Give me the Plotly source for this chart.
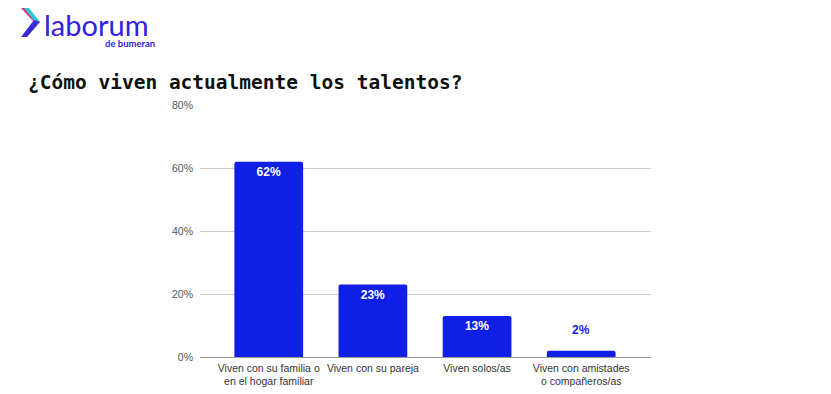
import plotly.graph_objects as go

categories = ["Viven con su familia o<br>en el hogar familiar", "Viven con su pareja",
              "Viven solos/as", "Viven con amistades<br>o compañeros/as"]
values = [0.62, 0.23, 0.13, 0.02]
labels = ["62%", "23%", "13%", "2%"]
tick_vals = [0, 0.2, 0.4, 0.6, 0.8]
tick_text = ["0%", "20%", "40%", "60%", "80%"]

BLUE = "#0f1fe6"
OFF = 8  # page body margin
W, H = 831, 394
L, T = 200 - OFF, 105 - OFF
R = W - (651 - OFF)
B = H - (357 - OFF)
PW, PH = W - L - R, H - T - B

def px(x):
    return (x - OFF - L) / PW

def py(y):
    return (H - B - (y - OFF)) / PH

inside = [v > 0.05 for v in values]

fig = go.Figure(go.Bar(
    x=list(range(len(categories))), y=values,
    text=[t if ins else "" for t, ins in zip(labels, inside)],
    textposition="inside", insidetextanchor="end",
    textfont=dict(family="Arial", size=12, color="white", weight="bold"),
    marker=dict(color=BLUE, line=dict(width=0)), width=0.66,
    cliponaxis=False,
))
for i, (v, t, ins) in enumerate(zip(values, labels, inside)):
    if not ins:
        fig.add_annotation(x=i, y=v, text=t, showarrow=False, yanchor="bottom", yshift=12,
                           font=dict(family="Arial", size=12, color=BLUE, weight="bold"))

fig.update_layout(
    width=W, height=H, margin=dict(l=L, r=R, t=T, b=B),
    paper_bgcolor="white", plot_bgcolor="white", showlegend=False,
    barcornerradius=2,
    xaxis=dict(tickvals=list(range(len(categories))), ticktext=categories,
               range=[-0.66, 3.67], showgrid=False, ticks="", ticklabelstandoff=3,
               tickfont=dict(family="Arial", size=10.5, color="#333")),
    yaxis=dict(range=[0, 0.8], tickvals=tick_vals, ticktext=tick_text,
               showgrid=True, gridcolor="#d0d0d0", gridwidth=1,
               zeroline=True, zerolinecolor="#999", zerolinewidth=1,
               ticks="", ticklabelstandoff=6,
               tickfont=dict(family="Arial", size=10.5, color="#555")),
    font=dict(family="Arial"),
)

# title
fig.add_annotation(text="¿Cómo viven actualmente los talentos?", xref="paper", yref="paper",
                   x=px(26), y=py(82), xanchor="left", yanchor="middle", showarrow=False,
                   font=dict(family="DejaVu Sans Mono", size=19.5, color="#111", weight="bold"))

# logo
fig.add_annotation(text="laborum", xref="paper", yref="paper", x=px(42), y=py(24),
                   xanchor="left", yanchor="middle", showarrow=False,
                   font=dict(family="Lato", size=29, color="#3320e0"))
fig.add_annotation(text="de bumeran", xref="paper", yref="paper", x=px(157), y=py(44),
                   xanchor="right", yanchor="middle", showarrow=False,
                   font=dict(family="Lato", size=9.5, color="#3320e0", weight="bold"))

def path(pts):
    return "M " + " L ".join(f"{px(x)},{py(y)}" for x, y in pts) + " Z"

fig.add_shape(type="path", xref="paper", yref="paper",
              path=path([(21, 8), (27, 8), (40, 22), (34, 22)]),
              fillcolor="#e0287a", line=dict(width=0))
fig.add_shape(type="path", xref="paper", yref="paper",
              path=path([(24, 8), (29, 8), (40, 22), (35, 22)]),
              fillcolor="#2ec9d6", line=dict(width=0))
fig.add_shape(type="path", xref="paper", yref="paper",
              path=path([(34, 20), (40, 22), (27, 37), (21, 37)]),
              fillcolor="#3a2ad6", line=dict(width=0))

fig.write_html("out.html")
